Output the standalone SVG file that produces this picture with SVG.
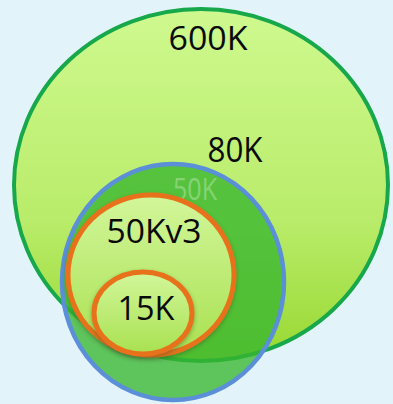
<svg xmlns="http://www.w3.org/2000/svg" width="393" height="404" viewBox="0 0 393 404">
<defs>
<linearGradient id="gBig" x1="0" y1="0" x2="0" y2="1">
<stop offset="0" stop-color="#cff98f"/>
<stop offset="0.6" stop-color="#b9ec6a"/>
<stop offset="1" stop-color="#98d832"/>
</linearGradient>
<linearGradient id="gIn" x1="0" y1="0" x2="0" y2="1">
<stop offset="0" stop-color="#d2f69a"/>
<stop offset="1" stop-color="#a9e150"/>
</linearGradient>
<filter id="sh" x="-20%" y="-20%" width="140%" height="140%">
<feDropShadow dx="0" dy="2" stdDeviation="2" flood-color="#305020" flood-opacity="0.45"/>
</filter>
</defs>
<style>
.lbl{font-family:"Open Sans","Liberation Sans",sans-serif;fill:#0a0a0a;}
.ring{stroke:#e8721c;stroke-width:5;fill:url(#gIn);}
</style>
<rect width="393" height="404" fill="#e2f4fa"/>
<g id="n600K">
<ellipse cx="201" cy="185" rx="187" ry="176" fill="url(#gBig)" stroke="#16a84a" stroke-width="4"/>
<text class="lbl" x="208" y="50" font-size="32.5" text-anchor="middle" textLength="79" lengthAdjust="spacingAndGlyphs">600K</text>
</g>
<g id="n80K">
<ellipse cx="173" cy="282" rx="111" ry="118" fill="#38b630" fill-opacity="0.78" stroke="#5b8fd8" stroke-width="4.5"/>
<text class="lbl" x="235" y="162" font-size="34" text-anchor="middle" textLength="55" lengthAdjust="spacingAndGlyphs">80K</text>
</g>
<g id="n50K">
<text x="195" y="200" font-family="Open Sans, Liberation Sans, sans-serif" font-size="31" fill="#ffffff" fill-opacity="0.3" text-anchor="middle" textLength="44" lengthAdjust="spacingAndGlyphs">50K</text>
</g>
<g id="n50Kv3">
<ellipse class="ring" cx="151" cy="275" rx="83" ry="80" filter="url(#sh)"/>
<text class="lbl" x="154" y="243" font-size="32.5" text-anchor="middle" textLength="95" lengthAdjust="spacingAndGlyphs">50Kv3</text>
</g>
<g id="n15K">
<ellipse class="ring" cx="143" cy="313" rx="49" ry="41" filter="url(#sh)"/>
<text class="lbl" x="146" y="320" font-size="32.5" text-anchor="middle" textLength="57" lengthAdjust="spacingAndGlyphs">15K</text>
</g>
<g id="connectors"/>
</svg>
